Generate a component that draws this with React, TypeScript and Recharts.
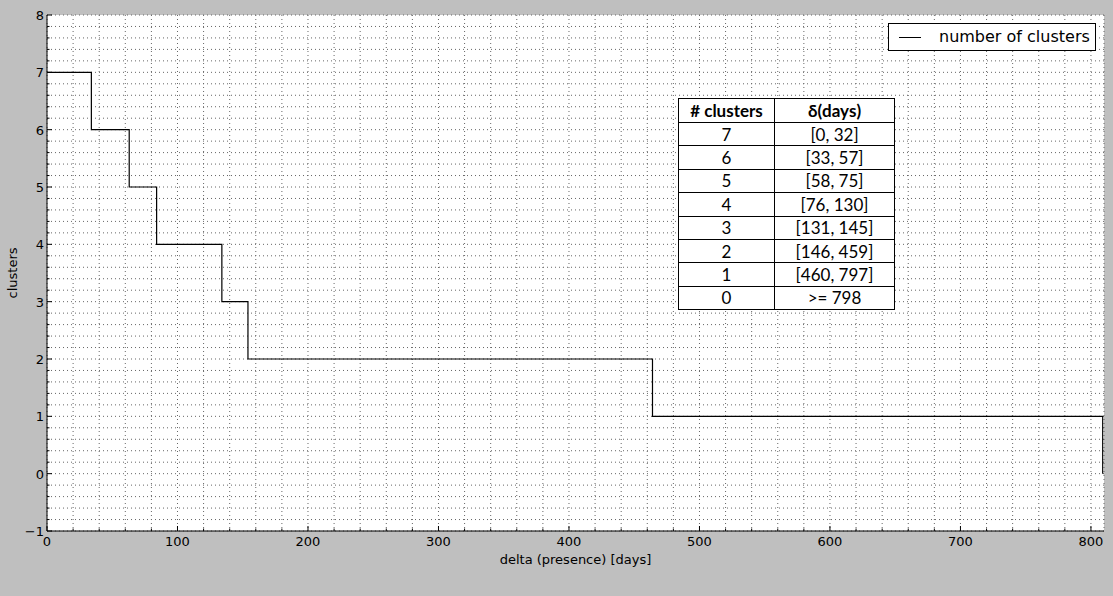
import React from "react";
import { CartesianGrid, Line, LineChart, XAxis, YAxis } from "recharts";

// step points (delta in days -> number of clusters)
const deltaDays = [0, 34, 63, 84, 134, 154, 464, 809];
const clusterCounts = [7, 6, 5, 4, 3, 2, 1, 0];

const xMajorTicks = [0, 100, 200, 300, 400, 500, 600, 700, 800];
const yMajorTicks = [-1, 0, 1, 2, 3, 4, 5, 6, 7, 8];

const tableClusters = ["7", "6", "5", "4", "3", "2", "1", "0"];
const tableRanges = ["[0, 32]", "[33, 57]", "[58, 75]", "[76, 130]", "[131, 145]", "[146, 459]", "[460, 797]", ">= 798"];

const data = deltaDays.map((d, i) => ({ delta: d, clusters: clusterCounts[i] }));

// minor ticks: 5 per major on x, 5 per major on y
const xTicks: number[] = [];
xMajorTicks.forEach((t) => {
  for (let k = 0; k < 5; k++) xTicks.push(t + k * 20);
});
const yTicks: number[] = [];
yMajorTicks.slice(0, -1).forEach((t) => {
  for (let k = 0; k < 5; k++) yTicks.push(Math.round((t + k * 0.2) * 10) / 10);
});
yTicks.push(8);

const FONT = "'DejaVu Sans', sans-serif";
const fmt = (v: number) => (v < 0 ? `\u2212${Math.abs(v)}` : `${v}`);

const XTick = (props: any) => {
  const { x, y, payload, top } = props;
  const v = payload.value;
  const major = v % 100 === 0;
  const len = major ? 5 : 2.5;
  const dir = top ? 1 : -1;
  return (
    <g>
      <line x1={x} x2={x} y1={y} y2={y + dir * len} stroke="#000" />
      {!top && major && (
        <text x={x} y={y + 15} textAnchor="middle" fontSize={13} fontFamily={FONT} fill="#000">
          {v}
        </text>
      )}
    </g>
  );
};

const YTick = (props: any) => {
  const { x, y, payload, right } = props;
  const v = payload.value;
  const major = Math.abs(v - Math.round(v)) < 1e-6;
  const len = major ? 5 : 2.5;
  const dir = right ? -1 : 1;
  return (
    <g>
      <line x1={x} x2={x + dir * len} y1={y} y2={y} stroke="#000" />
      {!right && major && (
        <text x={x - 3} y={y + 5} textAnchor="end" fontSize={13} fontFamily={FONT} fill="#000">
          {fmt(Math.round(v))}
        </text>
      )}
    </g>
  );
};

const cell: React.CSSProperties = {
  border: "1px solid #000",
  textAlign: "center",
  padding: 0,
  height: 22.4,
};

export default function App() {
  return (
    <div style={{ position: "fixed", left: 0, top: 0, width: 1113, height: 596, background: "#bfbfbf" }}>
      <LineChart width={1113} height={596} data={data} margin={{ top: 15, right: 9, bottom: 35, left: 0 }}>
        <CartesianGrid stroke="#666" strokeDasharray="1 3" strokeWidth={1} fill="#fff" />
        <XAxis
          dataKey="delta"
          type="number"
          domain={[0, 810]}
          ticks={xTicks}
          interval={0}
          tickSize={0}
          tickMargin={0}
          height={30}
          stroke="#000"
          tick={<XTick />}
        />
        <XAxis
          xAxisId="top"
          orientation="top"
          dataKey="delta"
          type="number"
          domain={[0, 810]}
          ticks={xTicks}
          interval={0}
          tickSize={0}
          tickMargin={0}
          height={0}
          stroke="#000"
          tick={<XTick top />}
        />
        <YAxis
          type="number"
          domain={[-1, 8]}
          ticks={yTicks}
          interval={0}
          tickSize={0}
          tickMargin={0}
          width={47}
          stroke="#000"
          tick={<YTick />}
        />
        <YAxis
          yAxisId="right"
          orientation="right"
          type="number"
          domain={[-1, 8]}
          ticks={yTicks}
          interval={0}
          tickSize={0}
          tickMargin={0}
          width={0}
          stroke="#000"
          tick={<YTick right />}
        />
        <Line
          type="stepAfter"
          dataKey="clusters"
          stroke="#000"
          strokeWidth={1.2}
          dot={false}
          isAnimationActive={false}
        />
      </LineChart>

      <div
        style={{
          position: "absolute",
          left: 0,
          top: 273,
          width: 24,
          fontFamily: FONT,
          fontSize: 13,
          transform: "translate(0, -50%) rotate(-90deg)",
          transformOrigin: "center",
          display: "flex",
          justifyContent: "center",
          whiteSpace: "nowrap",
        }}
      >
        clusters
      </div>
      <div
        style={{
          position: "absolute",
          left: 47,
          width: 1057,
          top: 552,
          textAlign: "center",
          fontFamily: FONT,
          fontSize: 13,
        }}
      >
        delta (presence) [days]
      </div>

      <div
        style={{
          position: "absolute",
          left: 888,
          top: 23,
          width: 206,
          height: 26,
          border: "1px solid #000",
          background: "#fff",
          fontFamily: FONT,
          fontSize: 16,
        }}
      >
        <div style={{ position: "absolute", left: 10, top: 13, width: 22, borderTop: "1px solid #000" }} />
        <div style={{ position: "absolute", left: 50, top: 3, whiteSpace: "nowrap" }}>number of clusters</div>
      </div>

      <table
        style={{
          position: "absolute",
          left: 678,
          top: 98,
          width: 217,
          borderCollapse: "collapse",
          background: "#fff",
          fontFamily: "Lato, 'Open Sans', sans-serif",
          fontSize: 17,
          color: "#000",
        }}
      >
        <thead>
          <tr>
            <th style={{ ...cell, width: 95, height: 23 }}>
              # clusters
            </th>
            <th style={{ ...cell, height: 23 }}>δ(days)</th>
          </tr>
        </thead>
        <tbody>
          {tableClusters.map((c, i) => (
            <tr key={c}>
              <td style={cell}>{c}</td>
              <td style={cell}>{tableRanges[i]}</td>
            </tr>
          ))}
        </tbody>
      </table>
    </div>
  );
}
